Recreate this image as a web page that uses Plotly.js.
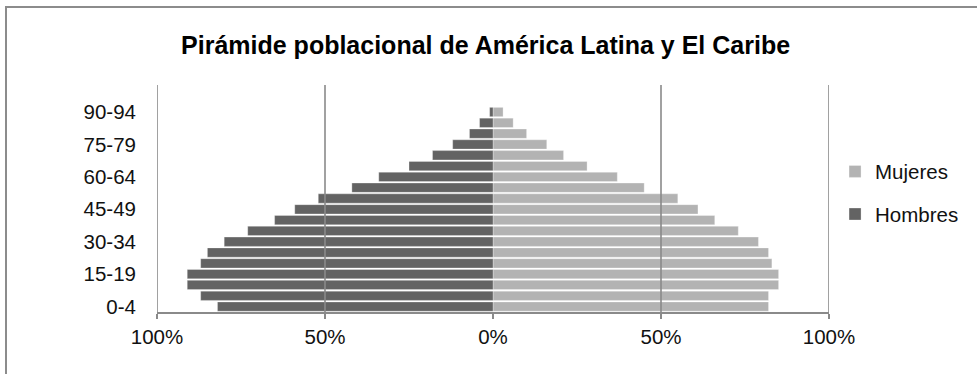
<!DOCTYPE html>
<html>
<head>
<meta charset="utf-8">
<script src="https://cdn.plot.ly/plotly-3.0.1.min.js"></script>
<style>
  html, body { margin: 0; padding: 0; background: #fff; }
  #wrap { position: relative; width: 977px; height: 374px; overflow: hidden; }
  #chart { width: 977px; height: 374px; }
  #frame {
    position: absolute; left: 5px; top: 6px; width: 1200px; height: 600px;
    border-left: 2px solid #8c8c8c; border-top: 2px solid #8c8c8c;
    pointer-events: none;
  }
</style>
</head>
<body>
<div id="wrap">
  <div id="chart"></div>
  <div id="frame"></div>
</div>
<script>
// Age groups, youngest first (bottom of the pyramid)
const ageGroups = ['0-4','5-9','10-14','15-19','20-24','25-29','30-34','35-39','40-44',
  '45-49','50-54','55-59','60-64','65-69','70-74','75-79','80-84','85-89','90-94','95-99','100+'];

// Share of each age group (%), men drawn to the left, women to the right
const hombres = [82, 87, 91, 91, 87, 85, 80, 73, 65, 59, 52, 42, 34, 25, 18, 12, 7, 4, 1, 0, 0];
const mujeres = [82, 82, 85, 85, 83, 82, 79, 73, 66, 61, 55, 45, 37, 28, 21, 16, 10, 6, 3, 0, 0];

// Labelled age groups on the vertical axis
const shownAgeLabels = ['0-4','15-19','30-34','45-49','60-64','75-79','90-94'];

// Horizontal axis ticks
const xTickVals = [-100, -50, 0, 50, 100];
const xTickText = ['100%', '50%', '0%', '50%', '100%'];

const rowIndex = ageGroups.map((_, i) => i);
const shownIdx = shownAgeLabels.map(l => ageGroups.indexOf(l));
const boundaries = ageGroups.concat(['']).map((_, i) => i - 0.5);

const gridGray = '#8a8a8a';
const font = { family: '"Liberation Sans", Arial, sans-serif', color: '#111' };
const labelSize = 20.5;

const traces = [
  {
    type: 'bar', orientation: 'h', name: 'Mujeres', legendgroup: 'm',
    y: rowIndex, x: mujeres,
    customdata: ageGroups, text: mujeres.map(v => v + '%'), textposition: 'none',
    hovertemplate: '%{customdata}: %{text}<extra>Mujeres</extra>',
    marker: { color: '#b3b3b3', line: { color: 'rgba(255,255,255,0.5)', width: 0.6 } }
  },
  {
    type: 'bar', orientation: 'h', name: 'Hombres', legendgroup: 'h',
    y: rowIndex, x: hombres.map(v => -v),
    customdata: ageGroups, text: hombres.map(v => v + '%'), textposition: 'none',
    hovertemplate: '%{customdata}: %{text}<extra>Hombres</extra>',
    marker: { color: '#636363', line: { color: 'rgba(255,255,255,0.5)', width: 0.6 } }
  }
];

// Vertical gridlines drawn over the bars
const gridShapes = xTickVals.filter(v => v !== 0).map(v => ({
  type: 'line', layer: 'above', xref: 'x', yref: 'paper',
  x0: v, x1: v, y0: 0, y1: 1,
  line: { color: gridGray, width: 1.6 }
}));

const layout = {
  width: 977, height: 374,
  margin: { l: 157, r: 148, t: 85, b: 62 },
  paper_bgcolor: '#fff', plot_bgcolor: '#fff',
  font: Object.assign({ size: labelSize }, font),
  barmode: 'relative', bargap: 0.14,
  showlegend: true,
  title: {
    text: '<b>Pirámide poblacional de América Latina y El Caribe</b>',
    font: Object.assign({}, font, { size: 25, color: '#000' }),
    x: 0.497, xref: 'container', xanchor: 'center',
    y: 0.88, yref: 'container', yanchor: 'middle'
  },
  xaxis: {
    range: [-100, 100], fixedrange: true,
    tickvals: xTickVals, ticktext: xTickText,
    showgrid: false, zeroline: false,
    showline: true, linecolor: gridGray, linewidth: 2,
    ticks: 'outside', ticklen: 5, tickwidth: 1.6, tickcolor: gridGray,
    tickfont: Object.assign({}, font, { size: labelSize })
  },
  yaxis: {
    range: [-0.5, ageGroups.length - 0.5], fixedrange: true,
    tickvals: shownIdx, ticktext: shownAgeLabels,
    showgrid: false, zeroline: false, showline: false,
    ticks: '', ticklabelstandoff: 20,
    tickfont: Object.assign({}, font, { size: labelSize })
  },
  // Central axis at 0% with ticks on the age-group boundaries
  yaxis2: {
    overlaying: 'y', anchor: 'free', position: 0.5, side: 'left',
    range: [-0.5, ageGroups.length - 0.5], fixedrange: true,
    tickvals: boundaries, showticklabels: false,
    showgrid: false, zeroline: false,
    showline: true, linecolor: gridGray, linewidth: 2,
    ticks: 'outside', ticklen: 5, tickwidth: 1.6, tickcolor: gridGray,
    layer: 'above traces'
  },
  legend: {
    x: 1.009, xanchor: 'left', y: 0.524, yanchor: 'middle',
    traceorder: 'grouped', tracegroupgap: 13,
    font: Object.assign({}, font, { size: labelSize }),
    bgcolor: 'rgba(0,0,0,0)'
  },
  shapes: gridShapes
};

Plotly.newPlot('chart', traces, layout, { displayModeBar: false, staticPlot: true });
</script>
</body>
</html>
